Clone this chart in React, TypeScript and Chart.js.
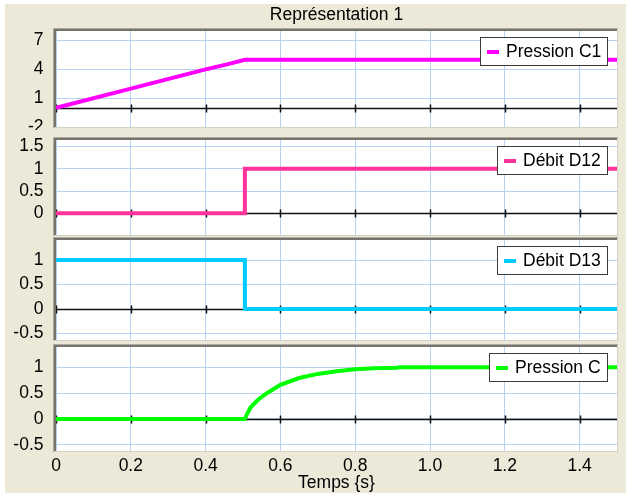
import React, { useEffect, useRef } from 'react';
import { Chart, registerables } from 'chart.js';

Chart.register(...registerables);

// ---- data ----
const c1Time = [0, 0.035, 0.2, 0.4, 0.46, 0.505, 1.5];
const c1Values = [0, 0.35, 2.0, 4.0, 4.55, 5.0, 5.0];

const d12Time = [0, 0.505, 0.505, 1.5];
const d12Values = [0, 0, 1, 1];

const d13Time = [0, 0.505, 0.505, 1.5];
const d13Values = [1, 1, 0, 0];

const cTime = [0, 0.505, 0.51, 0.52, 0.54, 0.56, 0.58, 0.6, 0.65, 0.7, 0.75, 0.8, 0.85, 0.91, 0.92, 1.0, 1.5];
const cValues = [0, 0, 0.08, 0.22, 0.37, 0.48, 0.57, 0.66, 0.79, 0.87, 0.92, 0.96, 0.98, 0.99, 1.0, 1.0, 1.0];

const panel1TickLabels = [7, 4, 1, -2];
const chartTitle = 'Représentation 1';
const xAxisTitle = 'Temps {s}';

const FONT = '"Liberation Sans", Arial, sans-serif';
const FONT_SIZE = 17.5;
const GRID = '#B9D1F1';

const framePlugin = {
  id: 'panelFrame',
  beforeDraw(chart: any) {
    const { ctx, chartArea: a } = chart;
    ctx.save();
    ctx.fillStyle = '#FFFFFF';
    ctx.fillRect(a.left, a.top, a.right - a.left, a.bottom - a.top);
    ctx.restore();
  },
  afterDraw(chart: any) {
    const { ctx, chartArea: a } = chart;
    const L = Math.round(a.left), T = Math.round(a.top), R = Math.round(a.right), B = Math.round(a.bottom);
    ctx.save();
    ctx.fillStyle = '#ACA99E';
    ctx.fillRect(L - 3, T - 3, R - L + 4, 1);
    ctx.fillRect(L - 3, T - 3, 1, B - T + 4);
    ctx.fillStyle = '#75736A';
    ctx.fillRect(L - 2, T - 2, R - L + 3, 2);
    ctx.fillRect(L - 2, T - 2, 2, B - T + 3);
    ctx.fillStyle = '#D4D1C4';
    ctx.fillRect(R, T - 2, 1, B - T + 3);
    ctx.fillRect(L - 2, B, R - L + 3, 1);
    ctx.restore();
  },
};

const zeroAxisPlugin = {
  id: 'zeroAxis',
  beforeDatasetsDraw(chart: any) {
    const { ctx, chartArea: a } = chart;
    const xs = chart.scales.x;
    const ys = chart.scales.y;
    const y0 = Math.round(ys.getPixelForValue(0)) + 0.5;
    ctx.save();
    ctx.strokeStyle = '#111111';
    ctx.lineWidth = 1.5;
    ctx.beginPath();
    ctx.moveTo(a.left, y0);
    ctx.lineTo(a.right, y0);
    xs.ticks.forEach((t: any) => {
      const px = Math.round(xs.getPixelForValue(t.value)) + 0.5;
      ctx.moveTo(px, y0 - 4);
      ctx.lineTo(px, y0 + 4);
    });
    ctx.stroke();
    ctx.restore();
  },
};

const boxLegendPlugin = {
  id: 'boxLegend',
  afterDraw(chart: any) {
    const { ctx, chartArea: a } = chart;
    const ds = chart.data.datasets[0];
    ctx.save();
    ctx.font = `${FONT_SIZE}px ${FONT}`;
    const tw = ctx.measureText(ds.label).width;
    const w = Math.round(7 + 12 + 7 + tw + 7);
    const h = 29;
    const right = Math.round(a.right) - 9;
    const left = right - w;
    const top = Math.round(a.top) + 6;
    ctx.fillStyle = '#FFFFFF';
    ctx.fillRect(left, top, w, h);
    ctx.strokeStyle = '#3C3C3C';
    ctx.lineWidth = 1;
    ctx.strokeRect(left + 0.5, top + 0.5, w - 1, h - 1);
    ctx.fillStyle = ds.borderColor;
    ctx.fillRect(left + 7, top + Math.round(h / 2) - 2, 12, 4);
    ctx.fillStyle = '#000000';
    ctx.textBaseline = 'middle';
    ctx.textAlign = 'left';
    ctx.fillText(ds.label, left + 26, top + h / 2 + 0.5);
    ctx.restore();
  },
};

type PanelSpec = {
  label: string;
  color: string;
  times: number[];
  values: number[];
  yMin: number;
  yMax: number;
  yStep: number;
  tickFilter?: number[];
  padTop: number;
  padBottom: number;
  showX: boolean;
  xHeight: number;
  withTitle: boolean;
};

function buildConfig(p: PanelSpec): any {
  const scales: any = {
    x: {
      type: 'linear',
      position: 'bottom',
      min: 0,
      max: 1.5,
      ticks: {
        stepSize: 0.2,
        includeBounds: false,
        display: p.showX,
        padding: 5,
        maxRotation: 0,
        autoSkip: false,
        color: '#000',
        font: { family: FONT, size: FONT_SIZE },
      },
      grid: { color: GRID, lineWidth: 1, drawTicks: false },
      border: { display: false },
      title: {
        display: p.showX,
        text: xAxisTitle,
        color: '#000',
        font: { family: FONT, size: FONT_SIZE },
        padding: { top: 0, bottom: 1 },
      },
      afterFit: (s: any) => {
        s.height = p.xHeight;
        s.paddingLeft = 0;
        s.paddingRight = 0;
      },
    },
    y: {
      type: 'linear',
      min: p.yMin,
      max: p.yMax,
      ticks: {
        stepSize: p.yStep,
        includeBounds: false,
        padding: 12.5,
        color: '#000',
        font: { family: FONT, size: FONT_SIZE },
        callback: (v: any) => {
          if (p.tickFilter) return p.tickFilter.includes(Number(v)) ? String(v) : '';
          return String(Math.round(Number(v) * 100) / 100);
        },
      },
      grid: { color: GRID, lineWidth: 1, drawTicks: false },
      border: { display: false },
      afterFit: (s: any) => {
        s.width = 56;
        s.paddingTop = 0;
        s.paddingBottom = 0;
      },
    },
  };
  if (p.withTitle) {
    scales.xTitle = {
      type: 'linear',
      position: 'top',
      min: 0,
      max: 1.5,
      ticks: { display: false },
      grid: { display: false, drawTicks: false },
      border: { display: false },
      title: {
        display: true,
        text: chartTitle,
        color: '#000',
        font: { family: FONT, size: FONT_SIZE },
        padding: { top: 5, bottom: 0 },
      },
      afterFit: (s: any) => {
        s.height = 31;
        s.paddingLeft = 0;
        s.paddingRight = 0;
      },
    };
  }
  return {
    type: 'line',
    data: {
      datasets: [
        {
          label: p.label,
          data: p.times.map((t, i) => ({ x: t, y: p.values[i] })),
          borderColor: p.color,
          backgroundColor: p.color,
          borderWidth: 4,
          pointRadius: 0,
          tension: 0,
          fill: false,
          borderCapStyle: 'butt',
          borderJoinStyle: 'miter',
        },
      ],
    },
    options: {
      animation: false,
      responsive: false,
      maintainAspectRatio: false,
      devicePixelRatio: 1,
      layout: { padding: { top: p.padTop, bottom: p.padBottom, left: 0, right: 9 } },
      plugins: {
        legend: { display: false },
        tooltip: { enabled: false },
        title: { display: false },
      },
      scales,
    },
    plugins: [framePlugin, zeroAxisPlugin, boxLegendPlugin],
  };
}

const panels: { top: number; height: number; spec: PanelSpec }[] = [
  {
    top: 0,
    height: 130,
    spec: {
      label: 'Pression C1', color: '#FF00FF', times: c1Time, values: c1Values,
      yMin: -2, yMax: 8, yStep: 1, tickFilter: panel1TickLabels,
      padTop: 0, padBottom: 3, showX: false, xHeight: 0, withTitle: true,
    },
  },
  {
    top: 130,
    height: 110,
    spec: {
      label: 'Débit D12', color: '#FF3399', times: d12Time, values: d12Values,
      yMin: -0.49, yMax: 1.65, yStep: 0.5,
      padTop: 10, padBottom: 5, showX: false, xHeight: 0, withTitle: false,
    },
  },
  {
    top: 230,
    height: 115,
    spec: {
      label: 'Débit D13', color: '#00CCFF', times: d13Time, values: d13Values,
      yMin: -0.63, yMax: 1.41, yStep: 0.5,
      padTop: 10, padBottom: 5, showX: false, xHeight: 0, withTitle: false,
    },
  },
  {
    top: 337,
    height: 158,
    spec: {
      label: 'Pression C', color: '#00FF00', times: cTime, values: cValues,
      yMin: -0.62, yMax: 1.39, yStep: 0.5,
      padTop: 10, padBottom: 0, showX: true, xHeight: 44, withTitle: false,
    },
  },
];

export default function App() {
  const refs = [useRef<HTMLCanvasElement>(null), useRef<HTMLCanvasElement>(null), useRef<HTMLCanvasElement>(null), useRef<HTMLCanvasElement>(null)];

  useEffect(() => {
    document.body.style.margin = '0';
    const charts = panels.map((p, i) => new Chart(refs[i].current as HTMLCanvasElement, buildConfig(p.spec)));
    return () => charts.forEach((c) => c.destroy());
  }, []);

  return (
    <div style={{ position: 'relative', width: 626, height: 495, background: '#FFFFFF', overflow: 'hidden' }}>
      <div style={{ position: 'absolute', left: 5, top: 4, right: 0, bottom: 2, background: '#ECE9D8' }} />
      {panels.map((p, i) => (
        <canvas
          key={i}
          ref={refs[i]}
          width={626}
          height={p.height}
          style={{ position: 'absolute', left: 0, top: p.top, width: 626, height: p.height }}
        />
      ))}
    </div>
  );
}
